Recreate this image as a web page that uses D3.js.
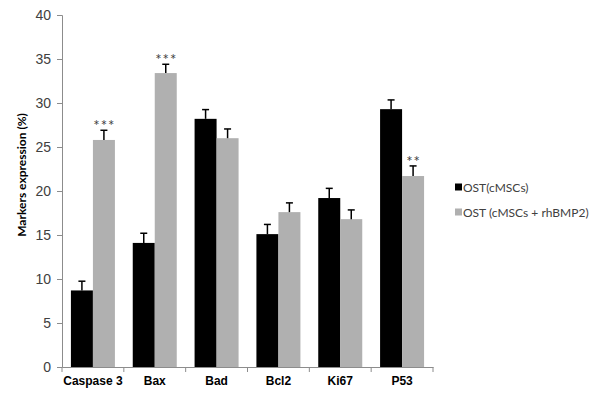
<!DOCTYPE html>
<html>
<head>
<meta charset="utf-8">
<script src="https://cdn.jsdelivr.net/npm/d3@7"></script>
<style>
	body { margin: 0; background: #fff; }
	svg { display: block; font-family: Lato, "Open Sans", sans-serif; }
	.tick text { fill: #404040; }
</style>
</head>
<body>
<svg></svg>
<script>

// data
var categories = ['Caspase 3', 'Bax', 'Bad', 'Bcl2', 'Ki67', 'P53']
var series_names = ['OST(cMSCs)', 'OST (cMSCs + rhBMP2)']
var ost_values = [8.7, 14.1, 28.2, 15.1, 19.2, 29.3]
var ost_errors = [1.05, 1.1, 1.05, 1.1, 1.1, 1.05]
var bmp_values = [25.8, 33.4, 26.0, 17.6, 16.8, 21.7]
var bmp_errors = [1.1, 1.0, 1.05, 1.05, 1.05, 1.15]
var bmp_marks = ['***', '***', '', '', '', '**']
var y_ticks = [0, 5, 10, 15, 20, 25, 30, 35, 40]

var width = 600
var height = 401

var svg = d3.select("svg")
	.attr("width", width)
	.attr("height", height)

var margin = { left: 62, top: 15, right: 167, bottom: 34 }

var x = d3.scaleBand()
	.domain(categories)
	.range([margin.left, width - margin.right])

var y = d3.scaleLinear()
	.domain([0, 40])
	.range([height - margin.bottom, margin.top])

var colors = ['#000000', '#b0b0b0']
var barW = 22

// rows: one per bar
var rows = []
categories.forEach(function(c, i){
	rows.push({ cat: c, s: 0, v: ost_values[i], e: ost_errors[i], mark: '' })
	rows.push({ cat: c, s: 1, v: bmp_values[i], e: bmp_errors[i], mark: bmp_marks[i] })
})

function bar_x(d){
	var mid = x(d.cat) + x.bandwidth() / 2
	return d.s == 0 ? mid - barW : mid
}

// AXES

var yAxis = svg.append("g")
	.attr("transform", "translate(" + margin.left + ",0)")
	.call(d3.axisLeft(y).tickValues(y_ticks).tickSize(5).tickPadding(6))

yAxis.selectAll("text").style("font-size", "14px")

var xAxis = svg.append("g")
	.attr("transform", "translate(0," + y(0) + ")")
	.call(d3.axisBottom(x).tickSize(0).tickPadding(9))

xAxis.selectAll("text")
	.style("font-size", "12px")
	.style("font-weight", "bold")
	.style("fill", "#000")

// category boundary ticks
xAxis.selectAll(".sep")
	.data(categories.concat(['end']))
	.enter()
	.append("line")
	.attr("class", "sep")
	.attr("x1", function(d, i){ return i < categories.length ? x(d) : x.range()[1] })
	.attr("x2", function(d, i){ return i < categories.length ? x(d) : x.range()[1] })
	.attr("y1", 0)
	.attr("y2", 5)
	.attr("stroke", "#8c8c8c")

svg.selectAll(".domain").attr("stroke", "#8c8c8c")
svg.selectAll(".tick line").attr("stroke", "#8c8c8c")

// BARS

svg.append("g")
	.selectAll("rect")
	.data(rows)
	.enter()
	.append("rect")
	.attr("x", bar_x)
	.attr("y", function(d){ return y(d.v) })
	.attr("width", barW)
	.attr("height", function(d){ return y(0) - y(d.v) })
	.attr("fill", function(d){ return colors[d.s] })

// error bars
var err = svg.append("g")
	.attr("stroke", "#000")
	.attr("stroke-width", 1.5)

err.selectAll(".ev")
	.data(rows)
	.enter()
	.append("line")
	.attr("x1", function(d){ return bar_x(d) + barW / 2 })
	.attr("x2", function(d){ return bar_x(d) + barW / 2 })
	.attr("y1", function(d){ return y(d.v) })
	.attr("y2", function(d){ return y(d.v + d.e) })

err.selectAll(".eh")
	.data(rows)
	.enter()
	.append("line")
	.attr("x1", function(d){ return bar_x(d) + barW / 2 - 3.5 })
	.attr("x2", function(d){ return bar_x(d) + barW / 2 + 3.5 })
	.attr("y1", function(d){ return y(d.v + d.e) })
	.attr("y2", function(d){ return y(d.v + d.e) })

// significance marks
svg.append("g")
	.selectAll("text")
	.data(rows.filter(function(d){ return d.mark }))
	.enter()
	.append("text")
	.attr("x", function(d){ return bar_x(d) + barW / 2 + 0.5 })
	.attr("y", function(d){ return y(d.v + d.e) + 1 })
	.attr("text-anchor", "middle")
	.style("font-size", "15px")
	.style("letter-spacing", "1px")
	.style("fill", "#404040")
	.text(function(d){ return d.mark })

// y title
svg.append("text")
	.attr("transform", "translate(26,175) rotate(-90)")
	.attr("text-anchor", "middle")
	.style("font-size", "12px")
	.style("font-weight", "bold")
	.text("Markers expression (%)")

// LEGEND

var legend = svg.append("g")
	.selectAll("g")
	.data(series_names)
	.enter()
	.append("g")
	.attr("transform", function(d, i){ return "translate(455," + (187 + i * 25) + ")" })

legend.append("rect")
	.attr("x", 0)
	.attr("y", -3.5)
	.attr("width", 7)
	.attr("height", 7)
	.attr("fill", function(d, i){ return colors[i] })

legend.append("text")
	.attr("x", 8)
	.attr("y", 4.5)
	.style("font-size", "12px")
	.style("fill", "#404040")
	.text(function(d){ return d })

</script>
</body>
</html>
